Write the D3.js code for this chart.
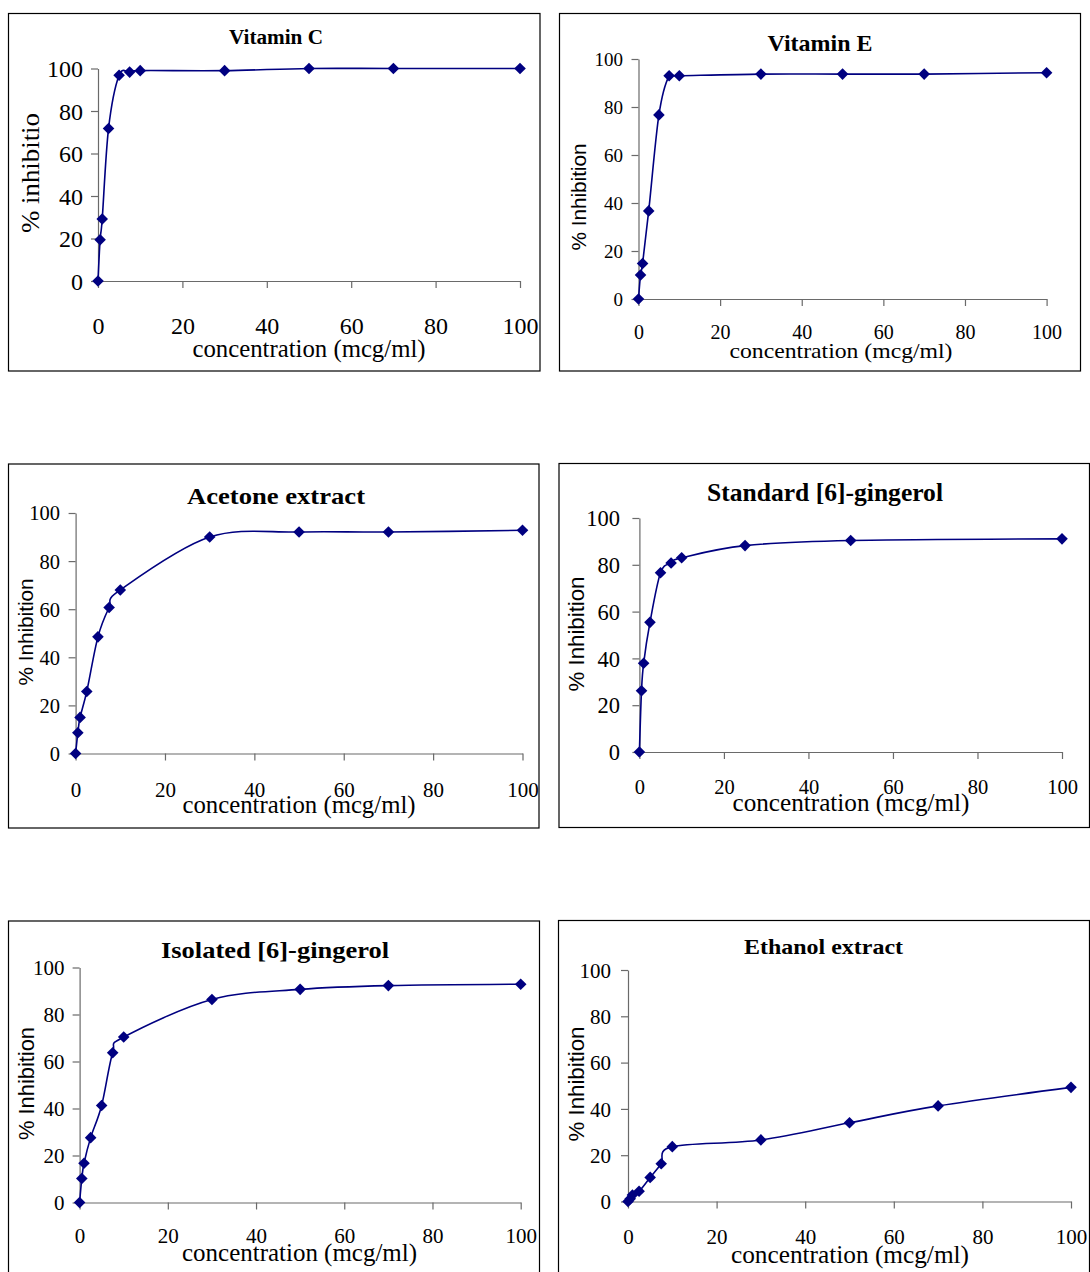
<!DOCTYPE html>
<html>
<head>
<meta charset="utf-8">
<script src="https://cdn.jsdelivr.net/npm/d3@7"></script>
<style>
  body { margin: 0; background: #fff; }
  svg text { fill: #000; }
</style>
</head>
<body>
<svg id="fig" width="1090" height="1272"></svg>
<script>
// Concentrations tested (mcg/ml)
const concentrations = [0, 0.5, 1, 2.5, 5, 7.5, 10, 30, 50, 70, 100];
const concentrationsStd = [0, 0.5, 1, 2.5, 5, 7.5, 10, 25, 50, 100];

// % inhibition for each sample
const vitaminC   = [0, 19.4, 29.2, 71.8, 96.8, 98.3, 99.0, 99.0, 100, 100, 100];
const vitaminE   = [0, 10.0, 14.8, 36.7, 76.7, 93.0, 93.0, 93.7, 93.7, 93.7, 94.3];
const acetone    = [0, 8.6, 15.0, 25.8, 48.5, 60.7, 68.0, 90.0, 92.1, 92.1, 92.8];
const standardGingerol = [0, 26.2, 37.9, 55.4, 76.6, 80.8, 83.0, 88.2, 90.4, 91.1];
const isolatedGingerol = [0, 10.2, 16.7, 27.6, 41.3, 63.7, 70.4, 86.4, 90.7, 92.3, 92.9];
const ethanol    = [0, 1.2, 2.8, 4.4, 10.4, 16.3, 23.7, 26.6, 34.0, 41.3, 49.3];

const titles = ["Vitamin C", "Vitamin E", "Acetone extract", "Standard [6]-gingerol",
                "Isolated [6]-gingerol", "Ethanol extract"];
const yAxisTitles = ["% inhibitio", "% Inhibition", "% Inhibition", "% Inhibition",
                     "% Inhibition", "% Inhibition"];
const xAxisTitle = "concentration (mcg/ml)";
const xTicks = [0, 20, 40, 60, 80, 100];
const yTicks = [0, 20, 40, 60, 80, 100];

const SERIF = "'Liberation Serif','Times New Roman',serif";
const SANS = "'Liberation Sans',Arial,sans-serif";
const NAVY = "#000080";

// Layout of each small chart box
const panels = [
  { xs: concentrations, ys: vitaminC,
    frame: [8.5, 13.5, 540, 371], plot: [98, 520, 281, 68.5],
    title: { x: 276, y: 37, size: 20, len: 94 },
    yTickRight: 83, yTickSize: 24, xTickY: 325, xTickSize: 24,
    xLab: { x: 309, y: 349, size: 25, len: 233 },
    yLab: { x: 30, y: 173, size: 25, len: 120, font: SERIF } },
  { xs: concentrations, ys: vitaminE,
    frame: [559.5, 13.5, 1080.5, 371], plot: [638.5, 1046.6, 299, 59],
    title: { x: 820, y: 42.5, size: 24, len: 105 },
    yTickRight: 623, yTickSize: 19, xTickY: 332, xTickSize: 20,
    xLab: { x: 841, y: 351.5, size: 22, len: 223 },
    yLab: { x: 579, y: 197, size: 20, len: 107, font: SANS } },
  { xs: concentrations, ys: acetone,
    frame: [8.5, 464, 539, 828], plot: [75.6, 522.5, 753.5, 513],
    title: { x: 276, y: 496, size: 24, len: 178 },
    yTickRight: 60, yTickSize: 20.5, xTickY: 789, xTickSize: 21,
    xLab: { x: 299, y: 805, size: 25, len: 233 },
    yLab: { x: 26, y: 632, size: 20.5, len: 107, font: SANS } },
  { xs: concentrationsStd, ys: standardGingerol,
    frame: [559, 463.5, 1089.5, 827.5], plot: [639.4, 1062, 752, 518],
    title: { x: 825, y: 492, size: 24.5, len: 236 },
    yTickRight: 620, yTickSize: 22.5, xTickY: 787, xTickSize: 20.5,
    xLab: { x: 851, y: 803.5, size: 25, len: 237 },
    yLab: { x: 576.5, y: 634, size: 22, len: 115, font: SANS } },
  { xs: concentrations, ys: isolatedGingerol,
    frame: [8.5, 921, 539.5, 1280], plot: [79.6, 520.7, 1202.5, 967.5],
    title: { x: 275, y: 950, size: 24, len: 228 },
    yTickRight: 64.5, yTickSize: 21, xTickY: 1235, xTickSize: 21,
    xLab: { x: 299.5, y: 1253.5, size: 25, len: 235 },
    yLab: { x: 26, y: 1083.5, size: 22, len: 113, font: SANS } },
  { xs: concentrations, ys: ethanol,
    frame: [558.5, 920.5, 1089.5, 1280], plot: [628, 1071, 1201.5, 970],
    title: { x: 823.5, y: 946.5, size: 21, len: 159 },
    yTickRight: 611, yTickSize: 21, xTickY: 1236, xTickSize: 21,
    xLab: { x: 850, y: 1255, size: 25, len: 238 },
    yLab: { x: 576.5, y: 1084, size: 22, len: 115, font: SANS } }
];

const svg = d3.select("#fig");

// Excel-style square diamond marker
function diamond(r) {
  return `M0,${-r}L${r},0L0,${r}L${-r},0Z`;
}

panels.forEach((p, i) => {
  const g = svg.append("g");
  const [fx0, fy0, fx1, fy1] = p.frame;
  const [px0, px1, py0, py1] = p.plot;

  g.append("rect")
    .attr("x", fx0).attr("y", fy0)
    .attr("width", fx1 - fx0).attr("height", fy1 - fy0)
    .attr("fill", "#fff").attr("stroke", "#000").attr("stroke-width", 1.2);

  const x = d3.scaleLinear().domain([0, 100]).range([px0, px1]);
  const y = d3.scaleLinear().domain([0, 100]).range([py0, py1]);

  // x axis
  const gx = g.append("g")
    .attr("transform", `translate(0,${py0})`)
    .call(d3.axisBottom(x).tickValues(xTicks).tickSize(7).tickSizeOuter(0));
  gx.selectAll("text")
    .attr("y", p.xTickY - py0).attr("dy", "0.36em")
    .style("font-family", SERIF).style("font-size", p.xTickSize + "px")
    .attr("fill", "#000");

  // y axis
  const gy = g.append("g")
    .attr("transform", `translate(${px0},0)`)
    .call(d3.axisLeft(y).tickValues(yTicks).tickSize(7).tickSizeOuter(0));
  gy.selectAll("text")
    .attr("x", p.yTickRight - px0).attr("dy", "0.34em")
    .style("font-family", SERIF).style("font-size", p.yTickSize + "px")
    .attr("fill", "#000");

  [gx, gy].forEach(a => {
    a.select(".domain").attr("stroke", "#6a6a6a").attr("stroke-width", 1.2);
    a.selectAll(".tick line").attr("stroke", "#6a6a6a").attr("stroke-width", 1.2);
  });

  // title
  g.append("text")
    .attr("x", p.title.x).attr("y", p.title.y).attr("dy", "0.35em")
    .attr("text-anchor", "middle")
    .attr("textLength", p.title.len).attr("lengthAdjust", "spacingAndGlyphs")
    .style("font-family", SERIF).style("font-weight", "bold")
    .style("font-size", p.title.size + "px")
    .text(titles[i]);

  // axis titles
  g.append("text")
    .attr("x", p.xLab.x).attr("y", p.xLab.y).attr("dy", "0.3em")
    .attr("text-anchor", "middle")
    .attr("textLength", p.xLab.len).attr("lengthAdjust", "spacingAndGlyphs")
    .style("font-family", SERIF).style("font-size", p.xLab.size + "px")
    .text(xAxisTitle);

  g.append("text")
    .attr("transform", `translate(${p.yLab.x},${p.yLab.y}) rotate(-90)`)
    .attr("dy", "0.35em")
    .attr("text-anchor", "middle")
    .attr("textLength", p.yLab.len).attr("lengthAdjust", "spacingAndGlyphs")
    .style("font-family", p.yLab.font).style("font-size", p.yLab.size + "px")
    .text(yAxisTitles[i]);

  // smoothed series line and markers
  const pts = p.xs.map((c, k) => [c, p.ys[k]]);
  const line = d3.line()
    .x(d => x(d[0])).y(d => y(d[1]))
    .curve(d3.curveCardinal.tension(0));
  g.append("path")
    .attr("d", line(pts))
    .attr("fill", "none").attr("stroke", NAVY).attr("stroke-width", 1.6);

  g.selectAll("path.marker").data(pts).enter().append("path")
    .attr("class", "marker")
    .attr("d", diamond(5.8))
    .attr("transform", d => `translate(${x(d[0])},${y(d[1])})`)
    .attr("fill", NAVY);
});
</script>
</body>
</html>
